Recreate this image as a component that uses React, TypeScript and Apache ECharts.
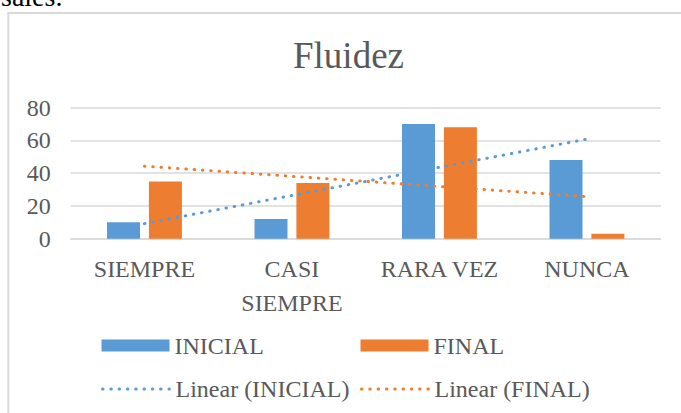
import React, { useEffect, useRef } from "react";
import * as echarts from "echarts";

const CATEGORIES = ["SIEMPRE", "CASI SIEMPRE", "RARA VEZ", "NUNCA"];
const INICIAL = [10, 12, 70, 48];
const FINAL = [35, 34, 68, 3];
const Y_TICKS = [0, 20, 40, 60, 80];

const BLUE = "#5B9BD5";
const ORANGE = "#ED7D31";
const TEXT = "#595959";
const GRID = "#D9D9D9";
const FONT = "Liberation Serif, Times New Roman, serif";

// Excel-style least-squares linear trendline over x = 1..n
function linearTrend(vals: number[]): number[] {
  const n = vals.length;
  const xs = vals.map((_, i) => i + 1);
  const mx = xs.reduce((a, b) => a + b, 0) / n;
  const my = vals.reduce((a, b) => a + b, 0) / n;
  let sxy = 0;
  let sxx = 0;
  for (let i = 0; i < n; i++) {
    sxy += (xs[i] - mx) * (vals[i] - my);
    sxx += (xs[i] - mx) * (xs[i] - mx);
  }
  const slope = sxy / sxx;
  const intercept = my - slope * mx;
  return xs.map((x) => intercept + slope * x);
}

export default function App() {
  const ref = useRef<HTMLDivElement>(null);

  useEffect(() => {
    if (!ref.current) return;
    const chart = echarts.init(ref.current, undefined, { renderer: "svg" });
    const dotted = [0.5, 7.8];
    const legendCommon = {
      orient: "horizontal",
      padding: 0,
      itemGap: 0,
      itemWidth: 68,
      itemHeight: 12,
      selectedMode: false,
      textStyle: { fontFamily: FONT, fontSize: 24, color: TEXT, lineHeight: 24 },
    };
    chart.setOption({
      animation: false,
      backgroundColor: "#ffffff",
      textStyle: { fontFamily: FONT, color: TEXT },
      title: {
        text: "Fluidez",
        left: 293,
        top: 37,
        padding: 0,
        textStyle: {
          fontFamily: FONT,
          fontSize: 37,
          fontWeight: "normal",
          color: TEXT,
          lineHeight: 37,
        },
      },
      graphic: [
        {
          type: "rect",
          shape: { x: 8.3, y: 13, width: 720, height: 460 },
          style: { fill: "none", stroke: GRID, lineWidth: 2 },
          silent: true,
        },
        {
          type: "text",
          style: {
            text: "sales.",
            x: 1,
            y: -3.5,
            fontFamily: FONT,
            fontSize: 28,
            fill: "#000000",
            verticalAlign: "middle",
          },
          silent: true,
        },
      ],
      legend: [
        { ...legendCommon, data: [{ name: "INICIAL", icon: "rect" }], left: 101.5, top: 333.5 },
        { ...legendCommon, data: [{ name: "FINAL", icon: "rect" }], left: 360.5, top: 333.5 },
        {
          ...legendCommon,
          data: ["Linear (INICIAL)"],
          left: 101,
          top: 377,
          itemStyle: { opacity: 0 },
          lineStyle: { width: 3, opacity: 1 },
        },
        {
          ...legendCommon,
          data: ["Linear (FINAL)"],
          left: 360,
          top: 377,
          itemStyle: { opacity: 0 },
          lineStyle: { width: 3, opacity: 1 },
        },
      ],
      grid: { left: 70.7, right: 20.3, top: 107.7, bottom: 174.3, containLabel: false },
      xAxis: {
        type: "category",
        data: CATEGORIES,
        axisTick: { show: false },
        axisLine: { show: true, lineStyle: { color: GRID, width: 1.5 } },
        axisLabel: {
          interval: 0,
          margin: 13,
          fontFamily: FONT,
          fontSize: 24,
          lineHeight: 34,
          color: TEXT,
          formatter: (v: string) => (v === "CASI SIEMPRE" ? "CASI\nSIEMPRE" : v),
        },
      },
      yAxis: {
        type: "value",
        min: Y_TICKS[0],
        max: Y_TICKS[Y_TICKS.length - 1],
        interval: 20,
        axisLine: { show: false },
        axisTick: { show: false },
        splitLine: { lineStyle: { color: GRID, width: 1.5 } },
        axisLabel: { fontFamily: FONT, fontSize: 24, color: TEXT, margin: 20 },
      },
      series: [
        {
          name: "INICIAL",
          type: "bar",
          data: INICIAL,
          barWidth: 33,
          barGap: "27%",
          itemStyle: { color: BLUE },
        },
        {
          name: "FINAL",
          type: "bar",
          data: FINAL,
          barWidth: 33,
          barGap: "27%",
          itemStyle: { color: ORANGE },
        },
        {
          name: "Linear (INICIAL)",
          type: "line",
          data: linearTrend(INICIAL),
          symbol: "none",
          showSymbol: false,
          itemStyle: { color: BLUE },
          lineStyle: { color: BLUE, width: 3, type: dotted, cap: "round" },
        },
        {
          name: "Linear (FINAL)",
          type: "line",
          data: linearTrend(FINAL),
          symbol: "none",
          showSymbol: false,
          itemStyle: { color: ORANGE },
          lineStyle: { color: ORANGE, width: 3, type: dotted, cap: "round" },
        },
      ],
    });
    return () => chart.dispose();
  }, []);

  return (
    <div
      ref={ref}
      style={{ position: "fixed", left: 0, top: 0, width: 681, height: 413, background: "#fff" }}
    />
  );
}
